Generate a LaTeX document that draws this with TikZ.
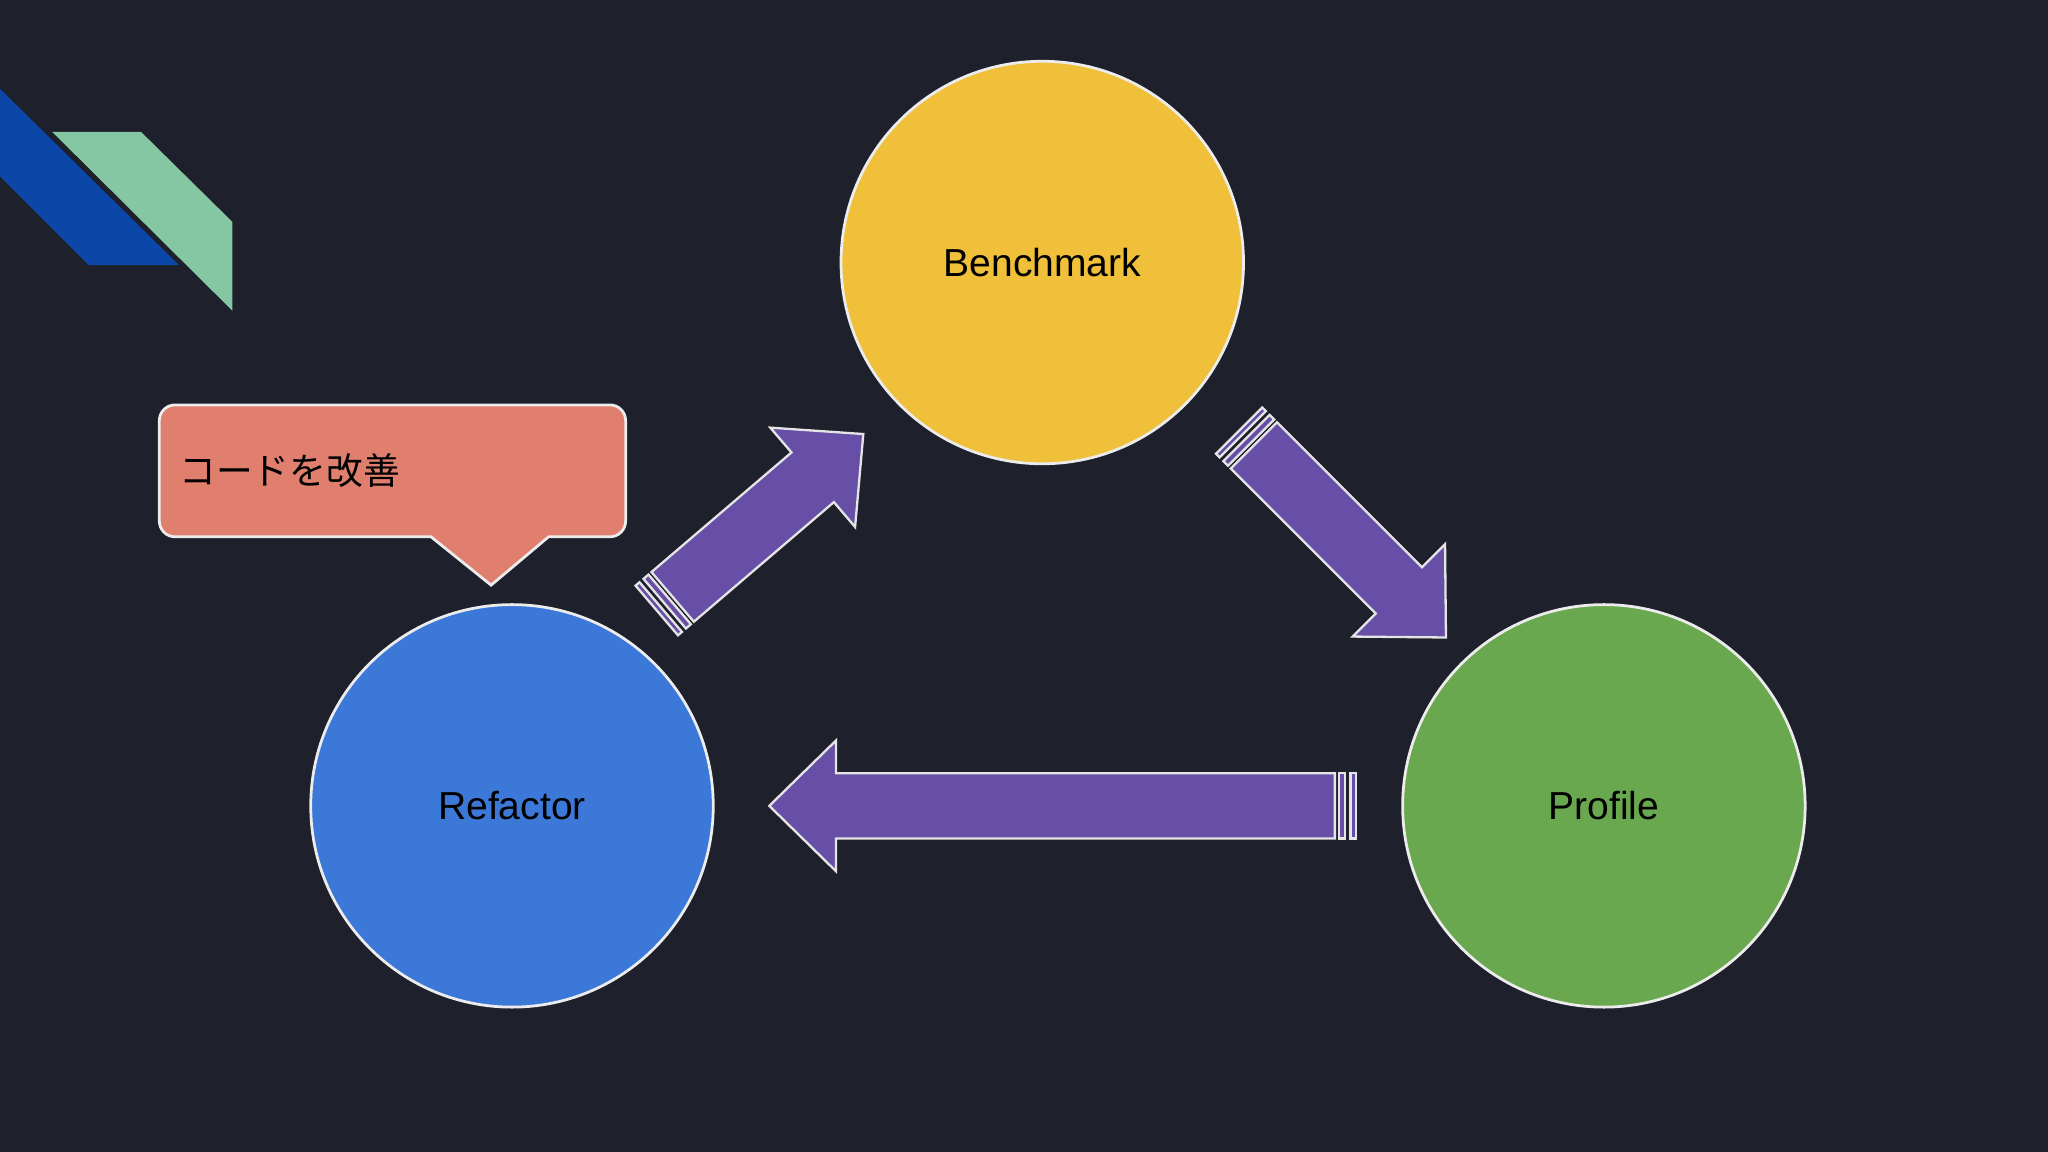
\documentclass[tikz,border=0pt]{standalone}
\usepackage{fontspec}
\setmainfont{Liberation Sans}
\newfontfamily\cjk{Noto Sans CJK JP}
\usetikzlibrary{positioning,calc}
\definecolor{bgc}{HTML}{1E202C}
\definecolor{benchc}{HTML}{F0C03A}
\definecolor{refc}{HTML}{3C78D8}
\definecolor{profc}{HTML}{6AA84F}
\definecolor{arrc}{HTML}{674EA7}
\definecolor{callc}{HTML}{E07F6E}
\definecolor{decob}{HTML}{0B47A8}
\definecolor{decog}{HTML}{85C6A3}
\tikzset{
	stage/.style={circle, draw=white!85!gray, line width=0.6pt, minimum size=3.08cm, inner sep=0, font=\fontsize{8.5}{10}\selectfont},
	barrow/.style={fill=arrc, draw=white!80!gray, line width=0.5pt}
}
% block arrow with striped tail, drawn along +x from the origin
\newcommand{\blockarr}[1]{%
	\draw[barrow] (0,-25) -- (#1-51,-25) -- (#1-51,-50) -- (#1,0) -- (#1-51,50) -- (#1-51,25) -- (0,25) -- cycle;
	\draw[barrow] (-3,-25) rectangle (-8,25);
	\draw[barrow] (-12,-25) rectangle (-16,25);
}
\begin{document}
\begin{tikzpicture}[x=0.01cm,y=-0.01cm]
	\fill[bgc] (0,0) rectangle (1568,882);
	\useasboundingbox (0,0) rectangle (1568,882);
	% corner decoration
	\fill[decob] (0,68) -- (137,203) -- (68,203) -- (0,135) -- cycle;
	\fill[decog] (40,101) -- (108,101) -- (178,170) -- (178,238) -- cycle;
	% stages
	\node[stage, fill=benchc] (bench) at (798,201) {Benchmark};
	\node[stage, fill=refc] (refac) at (392,617) {Refactor};
	\node[stage, fill=profc] (prof) at (1228,617) {Profile};
	% arrows
	\begin{scope}[shift={(515,457)}, rotate=40.5]
		\blockarr{192}
	\end{scope}
	\begin{scope}[shift={(960,341)}, rotate=-45]
		\blockarr{208}
	\end{scope}
	\begin{scope}[shift={(1022,617)}, rotate=180]
		\blockarr{433}
	\end{scope}
	% callout
	\draw[fill=callc, draw=white!85!gray, line width=0.6pt]
		(376,448) -- (330,411) [rounded corners=0.12cm] -- (122,411) -- (122,310) -- (479,310) -- (479,411) [sharp corners] -- (420,411) -- cycle;
	\node[anchor=west, font=\cjk\fontsize{8}{10}\selectfont] (note) at (125,360) {コードを改善};
\end{tikzpicture}
\end{document}
